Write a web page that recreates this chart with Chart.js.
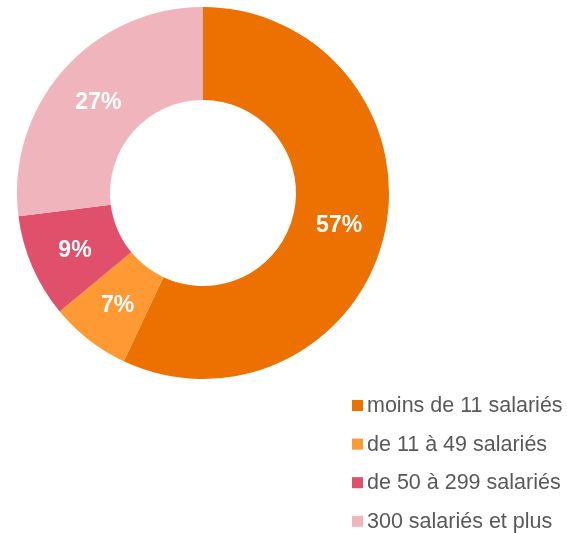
<!DOCTYPE html>
<html>
<head>
<meta charset="utf-8">
<script src="https://cdn.jsdelivr.net/npm/chart.js@4/dist/chart.umd.min.js"></script>
<style>
  html, body { margin:0; padding:0; background:#fff; }
  #wrap { position:relative; width:567px; height:533px; }
</style>
</head>
<body>
<div id="wrap"><canvas id="chart"></canvas></div>
<script>
// categories and shares (%)
const categories = ['moins de 11 salariés', 'de 11 à 49 salariés', 'de 50 à 299 salariés', '300 salariés et plus'];
const shares = [57, 7, 9, 27];
const colors = ['#ED7100', '#FF9933', '#E0506B', '#F0B5BC'];

// white % labels in the middle of each slice
const sliceLabels = {
  id: 'sliceLabels',
  afterDatasetsDraw(chart){
    const ctx = chart.ctx;
    const meta = chart.getDatasetMeta(0);
    ctx.save();
    ctx.fillStyle = '#fff';
    ctx.font = 'bold 23px "Liberation Sans", Arial, sans-serif';
    ctx.textAlign = 'center'; ctx.textBaseline = 'middle';
    meta.data.forEach((arc, i)=>{
      const p = arc.getCenterPoint();
      ctx.fillText(shares[i] + '%', p.x, p.y + 2);
    });
    ctx.restore();
  }
};

// legend in the lower right corner
const cornerLegend = {
  id: 'cornerLegend',
  afterDraw(chart){
    const ctx = chart.ctx;
    const ds = chart.data.datasets[0];
    ctx.save();
    ctx.font = '21.5px "Liberation Sans", Arial, sans-serif';
    ctx.textBaseline = 'middle'; ctx.textAlign = 'left';
    chart.data.labels.forEach((lab, i)=>{
      const y = 405 + i * 38.6;
      ctx.fillStyle = ds.backgroundColor[i];
      ctx.fillRect(352, y - 5, 11, 11);
      ctx.fillStyle = '#595959';
      ctx.fillText(lab, 367, y + 1);
    });
    ctx.restore();
  }
};

new Chart(document.getElementById('chart'), {
  type: 'doughnut',
  data: {
    labels: categories,
    datasets: [{ data: shares, backgroundColor: colors, borderWidth: 0 }]
  },
  options: {
    responsive: true,
    maintainAspectRatio: false,
    animation: false,
    cutout: '50%',
    layout: { padding: { left: 17, top: 7, right: 178, bottom: 154 } },
    plugins: { legend: { display: false }, tooltip: { enabled: false } }
  },
  plugins: [sliceLabels, cornerLegend]
});
</script>
</body>
</html>
